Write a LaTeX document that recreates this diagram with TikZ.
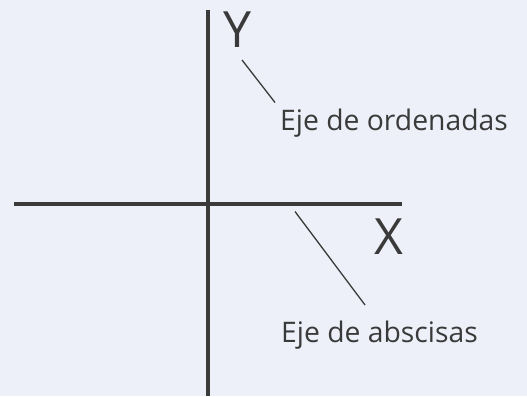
\documentclass[tikz,border=0pt]{standalone}
\usepackage{fontspec}
\setmainfont{Open Sans}
\usetikzlibrary{positioning}
\definecolor{EjeBg}{HTML}{EEF0F9}
\definecolor{EjeInk}{HTML}{3A3A3A}
\tikzset{
  ejeAxis/.style={draw=EjeInk, line width=3.6pt},
  ejeLead/.style={draw=EjeInk, line width=1.3pt},
  ejeLetter/.style={inner sep=0pt, text=EjeInk, font=\fontsize{50}{56}\selectfont},
  ejeText/.style={inner sep=0pt, text=EjeInk, font=\fontsize{28.3}{34}\selectfont}
}
\begin{document}
\begin{tikzpicture}[x=1pt, y=-1pt]
  \fill[EjeBg] (0,0) rectangle (527,396);
  \useasboundingbox (0,0) rectangle (527,396);

  % axes
  \coordinate (yTop) at (208,10);
  \coordinate (yBot) at (208,396);
  \coordinate (xLeft) at (14,204);
  \coordinate (xRight) at (402,204);
  \draw[ejeAxis] (yTop) -- (yBot);
  \draw[ejeAxis] (xLeft) -- (xRight);

  % letters
  \node[ejeLetter, anchor=base] (letY) at (237,47.7) {Y};
  \node[ejeLetter, anchor=base] (letX) at (389,254) {X};

  % labels
  \node[ejeText, anchor=base west] (ordenadas) at (280,130.5) {Eje de ordenadas};
  \node[ejeText, anchor=base west] (abscisas) at (281,342) {Eje de abscisas};

  % leaders
  \coordinate (ordA) at (242,60);
  \coordinate (ordB) at (275,102.5);
  \coordinate (absA) at (295,211.5);
  \coordinate (absB) at (365,305);
  \draw[ejeLead] (ordA) -- (ordB);
  \draw[ejeLead] (absA) -- (absB);
\end{tikzpicture}
\end{document}
